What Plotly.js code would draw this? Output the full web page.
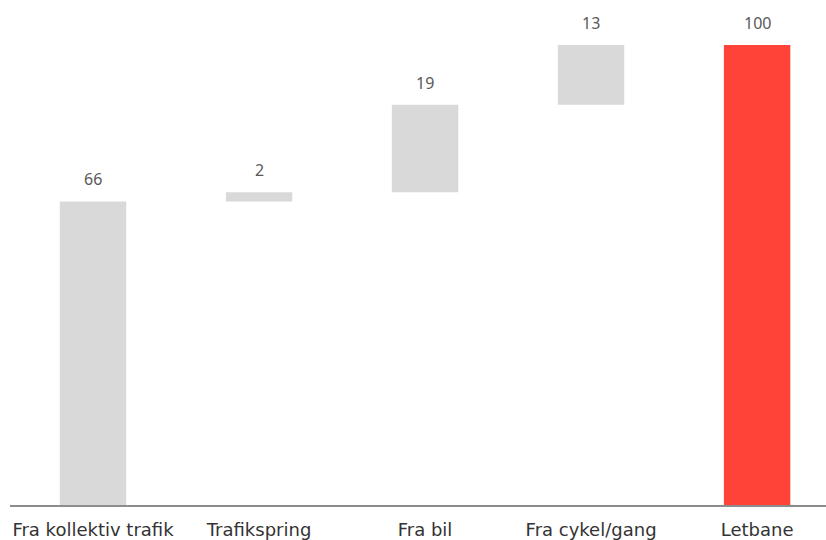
<!DOCTYPE html>
<html><head><meta charset="utf-8">
<script src="https://cdn.plot.ly/plotly-3.0.1.min.js"></script>
<style>body{margin:0;background:#fff}#c{width:826px;height:540px}</style>
</head><body><div id="c"></div>
<script>
const categories = ["Fra kollektiv trafik", "Trafikspring", "Fra bil", "Fra cykel/gang", "Letbane"];
const values = [66, 2, 19, 13, 100];
const measures = ["relative", "relative", "relative", "relative", "total"];

// cumulative tops for label placement
const tops = [];
let run = 0;
values.forEach((v, i) => { if (measures[i] === "total") { run = v; } else { run += v; } tops.push(run); });

const trace = {
  type: "waterfall",
  x: categories,
  y: values.map((v, i) => measures[i] === "total" ? 0 : v),
  measure: measures,
  width: 0.4,
  increasing: {marker: {color: "#D9D9D9"}},
  decreasing: {marker: {color: "#D9D9D9"}},
  totals: {marker: {color: "#FF4338"}},
  connector: {visible: false},
  textinfo: "none",
  hoverinfo: "skip"
};

const annotations = categories.map((c, i) => ({
  x: c, y: tops[i], xref: "x", yref: "y",
  text: String(values[i]), showarrow: false,
  yanchor: "middle", yshift: 22,
  font: {family: "Noto Sans, Open Sans, sans-serif", size: 16, color: "#595959"}
}));

const layout = {
  width: 826, height: 540,
  margin: {l: 10, r: 0, t: 0, b: 35},
  paper_bgcolor: "#fff", plot_bgcolor: "#fff",
  showlegend: false,
  xaxis: {
    type: "category", range: [-0.5, 4.415],
    showline: true, linecolor: "#8C8C8C", linewidth: 2,
    showgrid: false, zeroline: false, ticks: "",
    ticklabelstandoff: 7,
    tickfont: {family: "DejaVu Sans, sans-serif", size: 18, color: "#333333"},
    automargin: false
  },
  yaxis: {
    range: [0, 109.78], showgrid: false, zeroline: false, showline: false,
    showticklabels: false, ticks: ""
  },
  annotations: annotations
};

Plotly.newPlot("c", [trace], layout, {displayModeBar: false, staticPlot: true});
</script></body></html>
